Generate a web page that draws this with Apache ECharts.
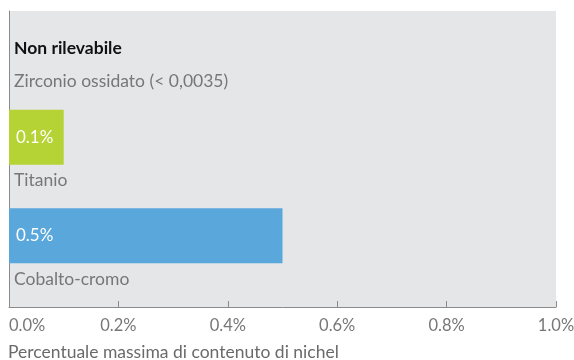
<!DOCTYPE html>
<html><head><meta charset="utf-8">
<script src="https://cdn.jsdelivr.net/npm/echarts@6/dist/echarts.min.js"></script>
<style>html,body{margin:0;padding:0;background:#fff}#c{width:574px;height:360px}</style>
</head><body><div id="c"></div>
<script>
const categories = ['Zirconio ossidato (< 0,0035)', 'Titanio', 'Cobalto-cromo'];
const values = [0, 0.1, 0.5];
const valueLabels = ['Non rilevabile', '0.1%', '0.5%'];
const barColors = ['#b5d334', '#b5d334', '#5aa7dc'];
const tickMin = 0, tickMax = 1, tickStep = 0.2;
const axisTitle = 'Percentuale massima di contenuto di nichel';

const FONT = 'Lato';
const chart = echarts.init(document.getElementById('c'), null, {renderer: 'canvas'});
chart.setOption({
  animation: false,
  textStyle: {fontFamily: FONT},
  title: {text: axisTitle, left: 3, top: 338,
    textStyle: {fontFamily: FONT, fontSize: 17.5, fontWeight: 'normal', color: '#6a6a6a'}},
  grid: {left: 9, right: 18, top: 11, bottom: 53, show: true, backgroundColor: '#e5e6e8', borderWidth: 0,
    outerBoundsMode: 'none', containLabel: false},
  xAxis: {type: 'value', min: tickMin, max: tickMax, interval: tickStep,
    axisLine: {show: true, lineStyle: {color: '#8a8a8a', width: 1}},
    axisTick: {show: true, inside: true, length: 6, lineStyle: {color: '#8a8a8a'}},
    splitLine: {show: false},
    axisLabel: {formatter: v => v.toFixed(1) + '%', color: '#777', fontSize: 16.5, margin: 10, fontFamily: FONT,
      alignMinLabel: 'left'}},
  yAxis: {type: 'category', inverse: true, data: categories,
    axisLine: {show: true, lineStyle: {color: '#8a8a8a', width: 1}},
    axisTick: {show: false}, axisLabel: {show: false}},
  series: [{
    type: 'bar', barWidth: 55, barGap: '0%',
    data: values.map((v, i) => ({
      value: v, itemStyle: {color: barColors[i]},
      label: i === 0 ? {color: '#111', fontWeight: 'bold', offset: [0, 10], distance: 5, fontSize: 17.5} : {}
    })),
    label: {show: true, position: 'insideLeft', distance: 7, color: '#fff', fontSize: 17, fontFamily: FONT,
      formatter: p => valueLabels[p.dataIndex]}
  }, {
    type: 'bar', barWidth: 43.67, barGap: '0%',
    data: values.map(() => 0),
    itemStyle: {color: 'transparent'},
    label: {show: true, position: 'insideLeft', distance: 5, color: '#777', fontSize: 17.5, fontFamily: FONT,
      offset: [0, -6], formatter: p => categories[p.dataIndex]}
  }]
});
</script></body></html>
